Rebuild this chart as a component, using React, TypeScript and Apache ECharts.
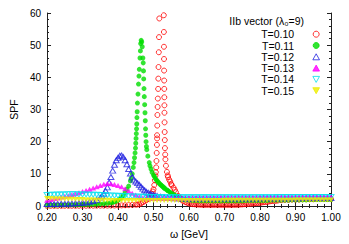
import React, { useEffect, useRef } from "react";
import * as echarts from "echarts";

const OMEGA = [
  0.20, 0.21, 0.22, 0.23, 0.24, 0.25, 0.26, 0.27, 0.28, 0.29,
  0.30, 0.31, 0.32, 0.33, 0.34, 0.35, 0.36, 0.37, 0.38, 0.39,
  0.40, 0.41, 0.42, 0.43, 0.44, 0.45, 0.46, 0.47, 0.48, 0.49,
  0.50, 0.51, 0.52, 0.53, 0.54, 0.55, 0.56, 0.57, 0.58, 0.59,
  0.60, 0.61, 0.62, 0.63, 0.64, 0.65, 0.66, 0.67, 0.68, 0.69,
  0.70, 0.71, 0.72, 0.73, 0.74, 0.75, 0.76, 0.77, 0.78, 0.79,
  0.80, 0.81, 0.82, 0.83, 0.84, 0.85, 0.86, 0.87, 0.88, 0.89,
  0.90, 0.91, 0.92, 0.93, 0.94, 0.95, 0.96, 0.97, 0.98, 0.99, 1.00,
];

const LABELS = ["T=0.10", "T=0.11", "T=0.12", "T=0.13", "T=0.14", "T=0.15"];

const T010 = [
  0.05, 0.05, 0.05, 0.05, 0.05, 0.06, 0.06, 0.06, 0.07, 0.07,
  0.08, 0.08, 0.09, 0.09, 0.10, 0.11, 0.12, 0.13, 0.14, 0.16,
  0.18, 0.20, 0.24, 0.28, 0.34, 0.42, 0.55, 1.2, 1.8, 2.7,
  5.2, 21, 160, 39, 9.5, 6.8, 5.0, 3.0, 1.9, 1.2,
  0.8, 0.6, 0.5, 0.45, 0.4, 0.4, 0.4, 0.4, 0.4, 0.4,
  0.4, 0.4, 0.4, 0.4, 0.45, 0.5, 0.6, 0.7, 0.8, 0.9,
  1.0, 1.2, 1.3, 1.5, 1.6, 1.7, 1.8, 1.9, 1.9, 2.0,
  2.0, 2.0, 2.1, 2.1, 2.1, 2.1, 2.2, 2.2, 2.2, 2.2, 2.2,
];
const T010_PEAK = [
  [0.455, 0.48], [0.465, 0.8], [0.475, 1.5], [0.485, 2.2], [0.49, 2.9],
  [0.495, 3.8], [0.498, 4.5], [0.502, 6.5], [0.504, 8.0], [0.5055, 9.5],
  [0.5066, 10.5], [0.5075, 12.0], [0.5083, 14.0], [0.509, 16.5], [0.5096, 19.0],
  [0.51, 22.0], [0.5105, 25.0], [0.511, 28.3], [0.5116, 30.8], [0.5122, 33.4],
  [0.513, 36.4], [0.5135, 39.6], [0.5141, 43.2], [0.5149, 47.8], [0.5155, 52.5],
  [0.5163, 58.3], [0.517, 65], [0.528, 68],
  [0.529, 59.3], [0.5292, 54.1], [0.5294, 49.5], [0.5296, 45.7], [0.5298, 42.1],
  [0.5302, 36.4], [0.5304, 33.8], [0.5306, 31.3], [0.5308, 29.0], [0.5311, 26.0],
  [0.5314, 23.0], [0.5318, 20.5], [0.5322, 18.0], [0.5328, 16.0], [0.5335, 14.5],
  [0.535, 12.5], [0.5378, 10.6], [0.541, 9.0], [0.544, 8.2], [0.547, 7.6],
  [0.551, 6.5], [0.5564, 5.7], [0.563, 4.3], [0.5702, 3.0], [0.577, 2.2],
  [0.584, 1.5], [0.595, 1.0],
  [0.605, 0.7], [0.615, 0.55], [0.625, 0.48], [0.635, 0.42], [0.645, 0.4],
  [0.655, 0.4], [0.665, 0.4], [0.675, 0.4], [0.685, 0.4], [0.695, 0.4],
  [0.705, 0.4], [0.715, 0.4], [0.725, 0.4], [0.735, 0.42], [0.745, 0.48],
  [0.755, 0.55], [0.765, 0.65], [0.775, 0.75], [0.785, 0.85], [0.795, 0.95],
  [0.805, 1.1], [0.815, 1.25], [0.825, 1.4], [0.835, 1.55], [0.845, 1.65],
];

const T011 = [
  0.30, 0.30, 0.31, 0.32, 0.33, 0.34, 0.35, 0.37, 0.39, 0.41,
  0.44, 0.47, 0.50, 0.55, 0.60, 0.67, 0.75, 0.85, 1.0, 1.3,
  1.8, 2.6, 4.2, 6.2, 10.0, 19.5, 42.5, 46.0, 18.5, 12.5,
  9.6, 7.8, 6.6, 5.6, 4.8, 3.9, 3.3, 2.6, 2.1, 1.9,
  1.8, 1.7, 1.7, 1.6, 1.6, 1.6, 1.6, 1.6, 1.6, 1.6,
  1.6, 1.6, 1.6, 1.6, 1.6, 1.6, 1.7, 1.7, 1.7, 1.7,
  1.7, 1.7, 1.7, 1.8, 1.8, 1.8, 1.8, 1.8, 1.8, 1.9,
  1.9, 1.9, 1.9, 1.9, 2.0, 2.0, 2.0, 2.0, 2.0, 2.0, 2.0,
];
const T011_PEAK = [
  [0.385, 1.15], [0.395, 1.5], [0.405, 2.2], [0.415, 3.3], [0.425, 5.2], [0.435, 7.8],
  [0.437, 8.6], [0.443, 12.0], [0.445, 13.5], [0.4465, 15.0], [0.448, 16.5],
  [0.4492, 18.0], [0.4508, 21.0], [0.4515, 22.5], [0.4522, 24.0], [0.4528, 25.5],
  [0.4533, 27.5], [0.454, 29.3], [0.4547, 32.0], [0.4563, 34.8], [0.4577, 37.9],
  [0.459, 40.4], [0.4619, 46.0], [0.463, 48.2], [0.4638, 50.5], [0.4652, 51.5],
  [0.4668, 51.0], [0.4682, 49.5], [0.471, 44.5], [0.4718, 42.0], [0.4724, 39.5],
  [0.4732, 36.5], [0.474, 34.0], [0.4751, 31.5], [0.476, 29.0], [0.4768, 26.5],
  [0.4775, 24.0], [0.4782, 22.0], [0.479, 20.0], [0.481, 17.5], [0.484, 15.5],
  [0.488, 13.5], [0.493, 11.5], [0.496, 10.5], [0.5025, 9.2], [0.505, 8.6],
  [0.5075, 8.2], [0.5125, 7.5], [0.515, 7.2], [0.5175, 6.9], [0.5225, 6.4],
  [0.525, 6.1], [0.5275, 5.9], [0.5325, 5.4], [0.5375, 5.0], [0.5425, 4.6],
  [0.5475, 4.2], [0.5525, 3.8], [0.5575, 3.5], [0.5625, 3.1], [0.5675, 2.8],
  [0.5725, 2.5], [0.5775, 2.3], [0.5825, 2.1], [0.5875, 2.0],
];

const T012 = [
  0.60, 0.62, 0.64, 0.66, 0.69, 0.72, 0.76, 0.80, 0.85, 0.90,
  1.0, 1.1, 1.3, 1.55, 1.9, 2.6, 3.8, 5.8, 9.0, 12.8,
  15.0, 15.7, 14.2, 11.5, 8.9, 7.6, 6.6, 5.4, 4.4, 3.8,
  3.4, 3.1, 2.9, 2.7, 2.6, 2.5, 2.4, 2.4, 2.3, 2.3,
  2.3, 2.3, 2.3, 2.3, 2.3, 2.3, 2.3, 2.3, 2.3, 2.3,
  2.3, 2.3, 2.3, 2.3, 2.3, 2.3, 2.3, 2.3, 2.3, 2.3,
  2.4, 2.4, 2.4, 2.4, 2.4, 2.4, 2.4, 2.4, 2.4, 2.4,
  2.4, 2.4, 2.5, 2.5, 2.5, 2.5, 2.5, 2.5, 2.5, 2.5, 2.5,
];
const T012_PEAK = [
  [0.355, 3.1], [0.365, 4.7], [0.375, 7.3], [0.385, 11.0], [0.395, 14.2],
  [0.405, 15.6], [0.415, 15.2], [0.425, 13.0], [0.435, 10.1], [0.445, 8.2],
  [0.455, 7.1], [0.465, 6.0], [0.475, 4.9], [0.485, 4.1], [0.495, 3.6],
  [0.505, 3.2],
];

const T013 = [
  1.8, 2.0, 2.3, 2.5, 2.8, 3.0, 3.2, 3.5, 3.8, 4.1,
  4.5, 4.8, 5.2, 5.6, 6.0, 6.4, 6.8, 7.0, 6.9, 6.7,
  6.4, 6.0, 5.4, 4.7, 4.0, 3.4, 2.9, 2.6, 2.4, 2.3,
  2.3, 2.3, 2.3, 2.4, 2.4, 2.4, 2.4, 2.5, 2.5, 2.5,
  2.5, 2.5, 2.5, 2.6, 2.6, 2.6, 2.6, 2.6, 2.6, 2.7,
  2.7, 2.7, 2.7, 2.7, 2.7, 2.7, 2.7, 2.7, 2.7, 2.7,
  2.7, 2.7, 2.8, 2.8, 2.8, 2.8, 2.8, 2.8, 2.8, 2.8,
  2.8, 2.8, 2.8, 2.9, 2.9, 2.9, 2.9, 2.9, 2.9, 2.9, 2.9,
];

const T014 = [
  3.4, 3.5, 3.5, 3.6, 3.6, 3.6, 3.7, 3.7, 3.7, 3.6,
  3.6, 3.6, 3.5, 3.5, 3.5, 3.4, 3.4, 3.3, 3.3, 3.2,
  3.2, 3.1, 3.1, 3.0, 3.0, 3.0, 2.9, 2.9, 2.9, 2.8,
  2.8, 2.8, 2.8, 2.7, 2.7, 2.7, 2.7, 2.7, 2.7, 2.7,
  2.7, 2.7, 2.7, 2.7, 2.7, 2.7, 2.7, 2.7, 2.7, 2.7,
  2.7, 2.7, 2.7, 2.7, 2.7, 2.7, 2.7, 2.7, 2.7, 2.7,
  2.7, 2.7, 2.7, 2.7, 2.7, 2.8, 2.8, 2.8, 2.8, 2.8,
  2.8, 2.8, 2.8, 2.8, 2.8, 2.8, 2.8, 2.8, 2.8, 2.8, 2.8,
];

const T015 = [
  2.3, 2.3, 2.2, 2.2, 2.2, 2.1, 2.1, 2.1, 2.0, 2.0,
  2.0, 1.9, 1.9, 1.9, 1.8, 1.8, 1.8, 1.8, 1.7, 1.7,
  1.7, 1.7, 1.7, 1.7, 1.7, 1.7, 1.7, 1.7, 1.7, 1.7,
  1.7, 1.7, 1.7, 1.7, 1.7, 1.7, 1.7, 1.7, 1.7, 1.7,
  1.7, 1.7, 1.7, 1.7, 1.7, 1.7, 1.7, 1.7, 1.7, 1.7,
  1.8, 1.8, 1.8, 1.8, 1.8, 1.8, 1.8, 1.8, 1.8, 1.8,
  1.8, 1.8, 1.8, 1.8, 1.8, 1.8, 1.8, 1.8, 1.8, 1.8,
  1.9, 1.9, 1.9, 1.9, 1.9, 1.9, 1.9, 1.9, 1.9, 1.9, 1.9,
];

const FONT = '"Liberation Sans", Arial, Helvetica, sans-serif';
const DOWN_TRI = "path://M0,0L10,0L5,9Z";
const UP_TRI = "path://M5,0L10,9L0,9Z";

function pairs(vals: number[], extra: number[][] = []) {
  return OMEGA.map((w, i) => [w, vals[i]]).concat(extra);
}

export default function App() {
  const ref = useRef<HTMLDivElement>(null);
  useEffect(() => {
    const chart = echarts.init(ref.current!, null, { renderer: "svg" });
    const axisLine = { show: true, lineStyle: { color: "#222", width: 1 } };
    const axisTick = { show: true, inside: true, length: 4, lineStyle: { color: "#222" } };
    const minorTick = { show: true, splitNumber: 5, length: 2, lineStyle: { color: "#222" } };
    const xBase = {
      type: "value", min: 0.2, max: 1.0, interval: 0.1,
      axisLine, axisTick, minorTick, splitLine: { show: false },
    };
    const yBase = {
      type: "value", min: 0, max: 60, interval: 10,
      axisLine, axisTick, minorTick, splitLine: { show: false },
    };
    const open = (c: string) => ({ color: "rgba(0,0,0,0)", borderColor: c, borderWidth: 1 });
    const fill = (c: string) => ({ color: c, borderColor: c, borderWidth: 0 });
    chart.setOption({
      animation: false,
      grid: { left: 41, top: 13, width: 290, height: 199 },
      xAxis: [
        {
          ...xBase, position: "bottom",
          axisLabel: { formatter: (v: number) => v.toFixed(2), fontSize: 10, color: "#000", margin: 6, fontFamily: FONT },
          name: "ω [GeV]", nameLocation: "middle", nameGap: 22,
          nameTextStyle: { fontSize: 10.5, color: "#000", fontFamily: FONT },
        },
        { ...xBase, position: "top", axisLabel: { show: false } },
      ],
      yAxis: [
        {
          ...yBase, position: "left",
          axisLabel: { fontSize: 10, color: "#000", margin: 6, fontFamily: FONT },
          name: "SPF", nameLocation: "middle", nameGap: 25,
          nameTextStyle: { fontSize: 10.5, color: "#000", fontFamily: FONT },
        },
        { ...yBase, position: "right", axisLabel: { show: false } },
      ],
      legend: {
        orient: "vertical", right: 29, top: 28.7, align: "right",
        itemWidth: 34, itemHeight: 6, itemGap: 0.3, padding: 0,
        selectedMode: false,
        itemStyle: { borderWidth: 1 },
        textStyle: { fontSize: 10.5, color: "#000", fontFamily: FONT },
        data: LABELS,
      },
      graphic: [
        {
          type: "text", right: 45, top: 15,
          style: { text: "IIb vector (λ₀=9)", font: `10.5px ${FONT}`, fill: "#000" },
        },
      ],
      series: [
        { name: LABELS[0], type: "scatter", data: pairs(T010, T010_PEAK), symbol: "circle", symbolSize: 5, itemStyle: open("#ff0000") },
        { name: LABELS[1], type: "scatter", data: pairs(T011, T011_PEAK), symbol: "circle", symbolSize: 5, itemStyle: fill("#00dd00") },
        { name: LABELS[2], type: "scatter", data: pairs(T012, T012_PEAK), symbol: UP_TRI, symbolSize: [6, 5], itemStyle: open("#2020e0") },
        { name: LABELS[3], type: "scatter", data: pairs(T013), symbol: UP_TRI, symbolSize: [6, 5], itemStyle: fill("#ff00ff") },
        { name: LABELS[4], type: "scatter", data: pairs(T014), symbol: DOWN_TRI, symbolSize: [6, 5], itemStyle: open("#00e0ee") },
        { name: LABELS[5], type: "scatter", data: pairs(T015), symbol: DOWN_TRI, symbolSize: [6, 5], itemStyle: fill("#eeee00") },
      ],
    });
    return () => chart.dispose();
  }, []);
  return <div ref={ref} style={{ position: "absolute", left: 0, top: 0, width: 349, height: 244 }} />;
}
